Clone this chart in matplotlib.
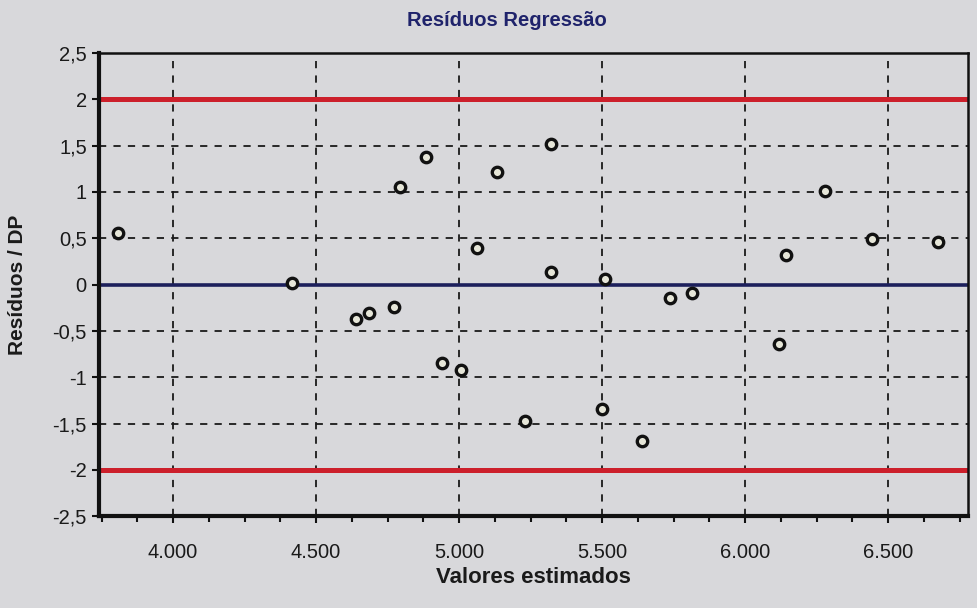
# Standardised residuals against fitted values, with +/-2 limits
import matplotlib.pyplot as plt
from matplotlib.ticker import FuncFormatter, MultipleLocator

valores_estimados = [3809, 4416, 4640, 4685, 4771, 4792, 4885, 4942, 5006, 5062,
                     5131, 5232, 5321, 5321, 5500, 5511, 5639, 5737, 5814, 6120,
                     6142, 6281, 6445, 6675]
residuos_dp = [0.56, 0.02, -0.37, -0.31, -0.24, 1.05, 1.38, -0.85, -0.92, 0.39,
               1.21, -1.47, 1.52, 0.14, -1.34, 0.06, -1.69, -0.14, -0.09, -0.64,
               0.32, 1.01, 0.49, 0.46]
limite = 2.0

bg = "#d8d8db"
plt.rcParams["font.family"] = ["Liberation Sans", "DejaVu Sans"]

fig = plt.figure(figsize=(9.77, 6.08), dpi=100, facecolor=bg)
ax = fig.add_axes([0.101, 0.151, 0.89, 0.762], facecolor=bg)

xmin, xmax = 3740, 6780
ax.set_xlim(xmin, xmax)
ax.set_ylim(-2.5, 2.5)

# grid
ax.xaxis.set_major_locator(MultipleLocator(500))
ax.xaxis.set_minor_locator(MultipleLocator(125))
ax.yaxis.set_major_locator(MultipleLocator(0.5))
ax.grid(True, which="major", color="#1a1a1a", linestyle=(0, (4, 4)), linewidth=1.3)

# reference lines
ax.axhline(limite, color="#cc1f2b", linewidth=3.6, zorder=3)
ax.axhline(-limite, color="#cc1f2b", linewidth=3.6, zorder=3)
ax.axhline(0, color="#1c1f5c", linewidth=2.6, zorder=3)

ax.plot(valores_estimados, residuos_dp, linestyle="none", marker="o",
        markersize=7.5, markerfacecolor="#e6e6d8", markeredgecolor="#111111",
        markeredgewidth=2.4, zorder=4)

ax.xaxis.set_major_formatter(FuncFormatter(lambda v, p: f"{v:,.0f}".replace(",", ".")))
ax.yaxis.set_major_formatter(FuncFormatter(lambda v, p: f"{v:g}".replace(".", ",")))

ax.tick_params(axis="both", which="major", direction="out", length=5, width=1.5,
               labelsize=14.5, labelcolor="#1a1a1a", color="#111111")
ax.tick_params(axis="x", which="minor", direction="out", length=4, width=1.5,
               color="#111111")
ax.tick_params(axis="x", pad=14)

for side in ["left", "bottom"]:
    ax.spines[side].set_linewidth(3.0)
for side in ["top", "right"]:
    ax.spines[side].set_linewidth(1.8)
for s in ax.spines.values():
    s.set_color("#111111")
    s.set_zorder(5)

ax.set_xlabel("Valores estimados", fontsize=16, fontweight="bold",
              color="#1a1a1a", labelpad=4)
ax.set_ylabel("Resíduos / DP", fontsize=15, fontweight="bold",
              color="#1a1a1a", labelpad=18)
fig.text(507 / 977, 1 - 21 / 608, "Resíduos Regressão", ha="center", va="center",
         fontsize=14.5, fontweight="bold", color="#1f236b")

fig.savefig("out.png", dpi=100, facecolor=bg)
